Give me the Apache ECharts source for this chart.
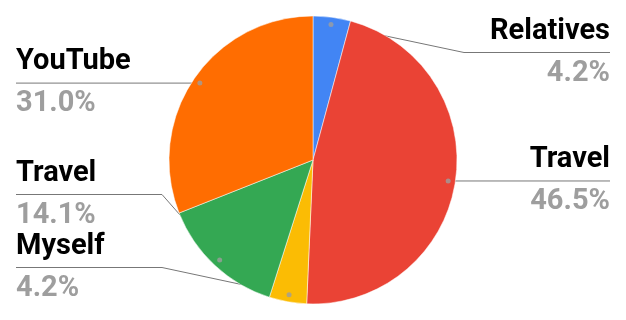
<!DOCTYPE html>
<html><head><meta charset="utf-8">
<script src="https://cdn.jsdelivr.net/npm/echarts@6/dist/echarts.min.js"></script>
<style>html,body{margin:0;padding:0;background:#fff}#c{width:626px;height:320px}</style>
</head><body><div id="c"></div>
<script>
const categories = ['Relatives', 'Travel', 'Myself', 'Travel', 'YouTube'];
const values = [4.2, 46.5, 4.2, 14.1, 31.0];
const colors = ['#4285F4', '#EA4335', '#FBBC04', '#34A853', '#FF6D01'];

const W = 626, H = 320, M = 16;
const cx = W / 2, cy = H / 2, R = Math.min(W - 2 * M, H - 2 * M) / 2;
const chart = echarts.init(document.getElementById('c'), null, {renderer: 'canvas'});

const pieData = categories.map((n, i) => ({name: n, value: values[i], itemStyle: {color: colors[i]}}));
const labelData = categories.map((n, i) => ({name: n, value: values[i]}));
const total = values.reduce((a, b) => a + b, 0);
let acc = 0;
const dotData = values.map(v => { const m = acc + v / 2; acc += v; return [0.95, m / total * 100]; });

const option = {
  animation: false,
  polar: {center: ['50%', '50%'], radius: R},
  angleAxis: {type: 'value', min: 0, max: 100, startAngle: 90, clockwise: true, show: false},
  radiusAxis: {type: 'value', min: 0, max: 1, show: false},
  series: [
    {
      type: 'pie', left: M, right: M, top: M, bottom: M,
      radius: '100%', center: ['50%', '50%'], startAngle: 90, clockwise: true,
      data: pieData, silent: true,
      label: {show: false}, labelLine: {show: false},
      itemStyle: {borderColor: '#ffffff', borderWidth: 0.5},
      emphasis: {disabled: true}
    },
    {
      type: 'pie', left: M, right: M, top: M, bottom: M,
      radius: '95%', center: ['50%', '50%'], startAngle: 90, clockwise: true,
      data: labelData, silent: true,
      itemStyle: {color: 'rgba(0,0,0,0)'},
      emphasis: {disabled: true},
      avoidLabelOverlap: true,
      label: {
        show: true, position: 'outside', alignTo: 'edge', edgeDistance: 0,
        distanceToLabelLine: 5,
        formatter: p => '{n|' + p.name + '}\n{p|' + p.percent.toFixed(1) + '%}',
        rich: {
          n: {fontSize: 29, fontWeight: 'bold', color: '#000000', lineHeight: 42, fontFamily: 'Roboto'},
          p: {fontSize: 29, fontWeight: 'bold', color: '#9e9e9e', lineHeight: 42, fontFamily: 'Roboto'}
        }
      },
      labelLine: {show: true, length: 0, length2: 10, minTurnAngle: 0, maxSurfaceAngle: 180,
        lineStyle: {color: '#777777', width: 1}},
      labelLayout: function (p) {
        const pts = p.labelLinePoints;
        if (!pts) return {};
        const y = pts[2][1];
        const left = pts[0][0] < cx;
        const elbowX = left ? cx - R - 7 : cx + R + 7;
        const far = left ? p.labelRect.x : p.labelRect.x + p.labelRect.width;
        return {labelLinePoints: [pts[0].slice(), [elbowX, y], [far, y]]};
      }
    },
    {
      type: 'scatter', coordinateSystem: 'polar', data: dotData, symbolSize: 5,
      itemStyle: {color: '#9e9e9e'}, silent: true, z: 10
    }
  ]
};
chart.setOption(option);
</script></body></html>
